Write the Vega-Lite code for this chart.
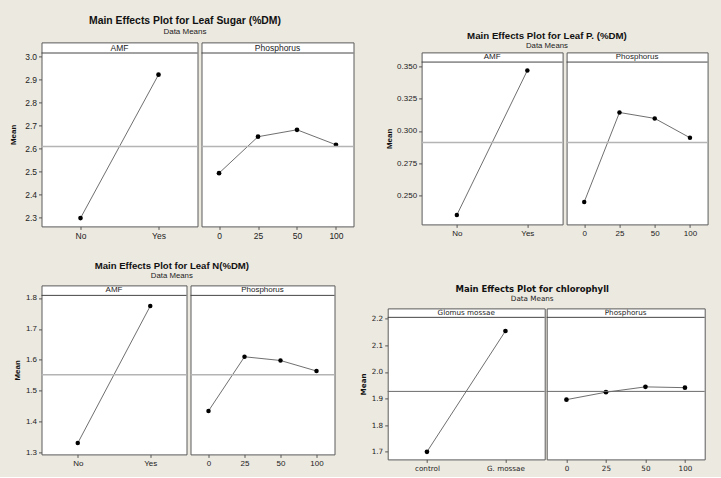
{
  "$schema": "https://vega.github.io/schema/vega-lite/v6.json",
  "padding": {"left": 8.5, "top": 9.4, "right": 17, "bottom": 5},
  "background": "#ECE9E0",
  "data": {"values": [
    {"response": "Leaf Sugar", "factor": "AMF", "level": "No", "mean": 2.297},
    {"response": "Leaf Sugar", "factor": "AMF", "level": "Yes", "mean": 2.919},
    {"response": "Leaf Sugar", "factor": "Phosphorus", "level": "0", "mean": 2.492},
    {"response": "Leaf Sugar", "factor": "Phosphorus", "level": "25", "mean": 2.650},
    {"response": "Leaf Sugar", "factor": "Phosphorus", "level": "50", "mean": 2.680},
    {"response": "Leaf Sugar", "factor": "Phosphorus", "level": "100", "mean": 2.615},
    {"response": "Leaf P", "factor": "AMF", "level": "No", "mean": 0.2348},
    {"response": "Leaf P", "factor": "AMF", "level": "Yes", "mean": 0.3469},
    {"response": "Leaf P", "factor": "Phosphorus", "level": "0", "mean": 0.2449},
    {"response": "Leaf P", "factor": "Phosphorus", "level": "25", "mean": 0.3143},
    {"response": "Leaf P", "factor": "Phosphorus", "level": "50", "mean": 0.3097},
    {"response": "Leaf P", "factor": "Phosphorus", "level": "100", "mean": 0.2947},
    {"response": "Leaf N", "factor": "AMF", "level": "No", "mean": 1.331},
    {"response": "Leaf N", "factor": "AMF", "level": "Yes", "mean": 1.774},
    {"response": "Leaf N", "factor": "Phosphorus", "level": "0", "mean": 1.435},
    {"response": "Leaf N", "factor": "Phosphorus", "level": "25", "mean": 1.610},
    {"response": "Leaf N", "factor": "Phosphorus", "level": "50", "mean": 1.598},
    {"response": "Leaf N", "factor": "Phosphorus", "level": "100", "mean": 1.564},
    {"response": "chlorophyll", "factor": "Glomus mossae", "level": "control", "mean": 1.700},
    {"response": "chlorophyll", "factor": "Glomus mossae", "level": "G. mossae", "mean": 2.154},
    {"response": "chlorophyll", "factor": "Phosphorus", "level": "0", "mean": 1.896},
    {"response": "chlorophyll", "factor": "Phosphorus", "level": "25", "mean": 1.924},
    {"response": "chlorophyll", "factor": "Phosphorus", "level": "50", "mean": 1.944},
    {"response": "chlorophyll", "factor": "Phosphorus", "level": "100", "mean": 1.941}
  ]},
  "spacing": 14,
  "vconcat": [
    {
      "spacing": 29.1,
      "hconcat": [
        {
          "spacing": 0,
          "vconcat": [
            {"width": 1, "height": 1, "data": {"values": [{}]}, "mark": {"type": "point", "opacity": 0}, "encoding": {}, "view": {"stroke": null, "fill": null}},
            {
              "title": {"text": "Main Effects Plot for Leaf Sugar (%DM)", "subtitle": "Data Means", "fontSize": 10.4, "subtitleFontSize": 8, "dx": 3, "offset": 6},
              "spacing": 0,
              "hconcat": [
                {
                  "width": 156, "height": 184,
                  "encoding": {
                    "y": {"type": "quantitative", "scale": {"domain": [2.261, 3.059], "nice": false, "zero": false}, "axis": {"title": "Mean", "values": [2.3, 2.4, 2.5, 2.6, 2.7, 2.8, 2.9, 3.0], "format": ".1f", "titlePadding": 7, "labelFontSize": 8.5}}
                  },
                  "layer": [
                    {"transform": [{"filter": "datum.response === 'Leaf Sugar' && datum.factor === 'AMF'"}],
                     "mark": {"type": "line", "color": "#4a4a4a", "strokeWidth": 0.8},
                     "encoding": {
                       "x": {"field": "level", "type": "nominal", "sort": ["No", "Yes"], "scale": {"type": "point", "padding": 0.5}, "axis": {"title": null, "labelAngle": 0, "labelFontSize": 8.5}},
                       "y": {"field": "mean"}}},
                    {"transform": [{"filter": "datum.response === 'Leaf Sugar' && datum.factor === 'AMF'"}],
                     "mark": {"type": "point", "filled": true, "color": "black", "size": 22, "opacity": 1},
                     "encoding": {
                       "x": {"field": "level", "type": "nominal", "sort": ["No", "Yes"]},
                       "y": {"field": "mean"}}},
                    {"data": {"values": [{}]}, "mark": {"type": "rule", "color": "#b4b4b4", "strokeWidth": 1.5}, "encoding": {"y": {"datum": 2.608}}},
                    {"data": {"values": [{}]}, "mark": {"type": "rule", "color": "#444444", "strokeWidth": 1}, "encoding": {"y": {"datum": 3.013}}},
                    {"data": {"values": [{"label": "AMF"}]}, "mark": {"type": "text", "fontSize": 8.5, "baseline": "middle"}, "encoding": {"y": {"datum": 3.036}, "text": {"field": "label"}}}
                  ]
                },
                {
                  "width": 152, "height": 184,
                  "encoding": {
                    "y": {"type": "quantitative", "scale": {"domain": [2.261, 3.059], "nice": false, "zero": false}, "axis": null}
                  },
                  "layer": [
                    {"transform": [{"filter": "datum.response === 'Leaf Sugar' && datum.factor === 'Phosphorus'"}],
                     "mark": {"type": "line", "color": "#4a4a4a", "strokeWidth": 0.8},
                     "encoding": {
                       "x": {"field": "level", "type": "nominal", "sort": ["0", "25", "50", "100"], "scale": {"type": "point", "padding": 0.45}, "axis": {"title": null, "labelAngle": 0, "labelFontSize": 8.5}},
                       "y": {"field": "mean"}}},
                    {"transform": [{"filter": "datum.response === 'Leaf Sugar' && datum.factor === 'Phosphorus'"}],
                     "mark": {"type": "point", "filled": true, "color": "black", "size": 22, "opacity": 1},
                     "encoding": {
                       "x": {"field": "level", "type": "nominal", "sort": ["0", "25", "50", "100"]},
                       "y": {"field": "mean"}}},
                    {"data": {"values": [{}]}, "mark": {"type": "rule", "color": "#b4b4b4", "strokeWidth": 1.5}, "encoding": {"y": {"datum": 2.608}}},
                    {"data": {"values": [{}]}, "mark": {"type": "rule", "color": "#444444", "strokeWidth": 1}, "encoding": {"y": {"datum": 3.013}}},
                    {"data": {"values": [{"label": "Phosphorus"}]}, "mark": {"type": "text", "fontSize": 8.5, "baseline": "middle"}, "encoding": {"y": {"datum": 3.036}, "text": {"field": "label"}}}
                  ]
                }
              ]
            }
          ]
        },
        {
          "spacing": 0,
          "vconcat": [
            {"width": 1, "height": 18.4, "data": {"values": [{}]}, "mark": {"type": "point", "opacity": 0}, "encoding": {}, "view": {"stroke": null, "fill": null}},
            {
              "title": {"text": "Main Effects Plot for Leaf P. (%DM)", "subtitle": "Data Means", "fontSize": 9.7, "subtitleFontSize": 7.8, "dx": 0, "offset": 2},
              "spacing": 0,
              "hconcat": [
                {
                  "width": 141, "height": 172,
                  "encoding": {
                    "y": {"type": "quantitative", "scale": {"domain": [0.2275, 0.3609], "nice": false, "zero": false}, "axis": {"title": "Mean", "values": [0.25, 0.275, 0.3, 0.325, 0.35], "format": ".3f", "titlePadding": 3}}
                  },
                  "layer": [
                    {"transform": [{"filter": "datum.response === 'Leaf P' && datum.factor === 'AMF'"}],
                     "mark": {"type": "line", "color": "#4a4a4a", "strokeWidth": 0.8},
                     "encoding": {
                       "x": {"field": "level", "type": "nominal", "sort": ["No", "Yes"], "scale": {"type": "point", "padding": 0.5}, "axis": {"title": null, "labelAngle": 0}},
                       "y": {"field": "mean"}}},
                    {"transform": [{"filter": "datum.response === 'Leaf P' && datum.factor === 'AMF'"}],
                     "mark": {"type": "point", "filled": true, "color": "black", "size": 20, "opacity": 1},
                     "encoding": {
                       "x": {"field": "level", "type": "nominal", "sort": ["No", "Yes"]},
                       "y": {"field": "mean"}}},
                    {"data": {"values": [{}]}, "mark": {"type": "rule", "color": "#b4b4b4", "strokeWidth": 1.5}, "encoding": {"y": {"datum": 0.2911}}},
                    {"data": {"values": [{}]}, "mark": {"type": "rule", "color": "#444444", "strokeWidth": 1}, "encoding": {"y": {"datum": 0.3534}}},
                    {"data": {"values": [{"label": "AMF"}]}, "mark": {"type": "text", "fontSize": 8, "baseline": "middle"}, "encoding": {"y": {"datum": 0.3571}, "text": {"field": "label"}}}
                  ]
                },
                {
                  "width": 141, "height": 172,
                  "encoding": {
                    "y": {"type": "quantitative", "scale": {"domain": [0.2275, 0.3609], "nice": false, "zero": false}, "axis": null}
                  },
                  "layer": [
                    {"transform": [{"filter": "datum.response === 'Leaf P' && datum.factor === 'Phosphorus'"}],
                     "mark": {"type": "line", "color": "#4a4a4a", "strokeWidth": 0.8},
                     "encoding": {
                       "x": {"field": "level", "type": "nominal", "sort": ["0", "25", "50", "100"], "scale": {"type": "point", "padding": 0.5}, "axis": {"title": null, "labelAngle": 0}},
                       "y": {"field": "mean"}}},
                    {"transform": [{"filter": "datum.response === 'Leaf P' && datum.factor === 'Phosphorus'"}],
                     "mark": {"type": "point", "filled": true, "color": "black", "size": 20, "opacity": 1},
                     "encoding": {
                       "x": {"field": "level", "type": "nominal", "sort": ["0", "25", "50", "100"]},
                       "y": {"field": "mean"}}},
                    {"data": {"values": [{}]}, "mark": {"type": "rule", "color": "#b4b4b4", "strokeWidth": 1.5}, "encoding": {"y": {"datum": 0.2911}}},
                    {"data": {"values": [{}]}, "mark": {"type": "rule", "color": "#444444", "strokeWidth": 1}, "encoding": {"y": {"datum": 0.3534}}},
                    {"data": {"values": [{"label": "Phosphorus"}]}, "mark": {"type": "text", "fontSize": 8, "baseline": "middle"}, "encoding": {"y": {"datum": 0.3571}, "text": {"field": "label"}}}
                  ]
                }
              ]
            }
          ]
        }
      ]
    },
    {
      "spacing": 22.2,
      "hconcat": [
        {
          "spacing": 0,
          "vconcat": [
            {"width": 1, "height": 1, "data": {"values": [{}]}, "mark": {"type": "point", "opacity": 0}, "encoding": {}, "view": {"stroke": null, "fill": null}},
            {
              "title": {"text": "Main Effects Plot for Leaf N(%DM)", "subtitle": "Data Means", "fontSize": 9.6, "subtitleFontSize": 7.8, "dx": -2.5, "offset": 5},
              "spacing": 0,
              "hconcat": [
                {
                  "width": 145, "height": 169,
                  "encoding": {
                    "y": {"type": "quantitative", "scale": {"domain": [1.2945, 1.8407], "nice": false, "zero": false}, "axis": {"title": "Mean", "values": [1.3, 1.4, 1.5, 1.6, 1.7, 1.8], "format": ".1f", "titlePadding": 4}}
                  },
                  "layer": [
                    {"transform": [{"filter": "datum.response === 'Leaf N' && datum.factor === 'AMF'"}],
                     "mark": {"type": "line", "color": "#4a4a4a", "strokeWidth": 0.8},
                     "encoding": {
                       "x": {"field": "level", "type": "nominal", "sort": ["No", "Yes"], "scale": {"type": "point", "padding": 0.5}, "axis": {"title": null, "labelAngle": 0}},
                       "y": {"field": "mean"}}},
                    {"transform": [{"filter": "datum.response === 'Leaf N' && datum.factor === 'AMF'"}],
                     "mark": {"type": "point", "filled": true, "color": "black", "size": 20, "opacity": 1},
                     "encoding": {
                       "x": {"field": "level", "type": "nominal", "sort": ["No", "Yes"]},
                       "y": {"field": "mean"}}},
                    {"data": {"values": [{}]}, "mark": {"type": "rule", "color": "#b4b4b4", "strokeWidth": 1.5}, "encoding": {"y": {"datum": 1.552}}},
                    {"data": {"values": [{}]}, "mark": {"type": "rule", "color": "#444444", "strokeWidth": 1}, "encoding": {"y": {"datum": 1.8084}}},
                    {"data": {"values": [{"label": "AMF"}]}, "mark": {"type": "text", "fontSize": 8, "baseline": "middle"}, "encoding": {"y": {"datum": 1.8245}, "text": {"field": "label"}}}
                  ]
                },
                {
                  "width": 144, "height": 169,
                  "encoding": {
                    "y": {"type": "quantitative", "scale": {"domain": [1.2945, 1.8407], "nice": false, "zero": false}, "axis": null}
                  },
                  "layer": [
                    {"transform": [{"filter": "datum.response === 'Leaf N' && datum.factor === 'Phosphorus'"}],
                     "mark": {"type": "line", "color": "#4a4a4a", "strokeWidth": 0.8},
                     "encoding": {
                       "x": {"field": "level", "type": "nominal", "sort": ["0", "25", "50", "100"], "scale": {"type": "point", "padding": 0.5}, "axis": {"title": null, "labelAngle": 0}},
                       "y": {"field": "mean"}}},
                    {"transform": [{"filter": "datum.response === 'Leaf N' && datum.factor === 'Phosphorus'"}],
                     "mark": {"type": "point", "filled": true, "color": "black", "size": 20, "opacity": 1},
                     "encoding": {
                       "x": {"field": "level", "type": "nominal", "sort": ["0", "25", "50", "100"]},
                       "y": {"field": "mean"}}},
                    {"data": {"values": [{}]}, "mark": {"type": "rule", "color": "#b4b4b4", "strokeWidth": 1.5}, "encoding": {"y": {"datum": 1.552}}},
                    {"data": {"values": [{}]}, "mark": {"type": "rule", "color": "#444444", "strokeWidth": 1}, "encoding": {"y": {"datum": 1.8084}}},
                    {"data": {"values": [{"label": "Phosphorus"}]}, "mark": {"type": "text", "fontSize": 8, "baseline": "middle"}, "encoding": {"y": {"datum": 1.8245}, "text": {"field": "label"}}}
                  ]
                }
              ]
            }
          ]
        },
        {
          "spacing": 0,
          "vconcat": [
            {"width": 1, "height": 26.9, "data": {"values": [{}]}, "mark": {"type": "point", "opacity": 0}, "encoding": {}, "view": {"stroke": null, "fill": null}},
            {
              "title": {"text": "Main Effects Plot for chlorophyll", "subtitle": "Data Means", "font": "DejaVu Sans", "subtitleFont": "DejaVu Sans", "fontSize": 8.5, "subtitleFontSize": 7.2, "dx": 0, "offset": 6},
              "spacing": 0,
              "hconcat": [
                {
                  "width": 157, "height": 151,
                  "encoding": {
                    "y": {"type": "quantitative", "scale": {"domain": [1.6714, 2.239], "nice": false, "zero": false}, "axis": {"title": "Mean", "values": [1.7, 1.8, 1.9, 2.0, 2.1, 2.2], "format": ".1f", "titlePadding": 4, "labelFont": "DejaVu Sans", "labelFontSize": 7.2, "titleFont": "DejaVu Sans", "titleFontSize": 7.2}}
                  },
                  "layer": [
                    {"transform": [{"filter": "datum.response === 'chlorophyll' && datum.factor === 'Glomus mossae'"}],
                     "mark": {"type": "line", "color": "#4a4a4a", "strokeWidth": 0.8},
                     "encoding": {
                       "x": {"field": "level", "type": "nominal", "sort": ["control", "G. mossae"], "scale": {"type": "point", "padding": 0.5}, "axis": {"title": null, "labelAngle": 0, "labelFont": "DejaVu Sans", "labelFontSize": 7.2}},
                       "y": {"field": "mean"}}},
                    {"transform": [{"filter": "datum.response === 'chlorophyll' && datum.factor === 'Glomus mossae'"}],
                     "mark": {"type": "point", "filled": true, "color": "black", "size": 22, "opacity": 1},
                     "encoding": {
                       "x": {"field": "level", "type": "nominal", "sort": ["control", "G. mossae"]},
                       "y": {"field": "mean"}}},
                    {"data": {"values": [{}]}, "mark": {"type": "rule", "color": "#6a6a6a", "strokeWidth": 1}, "encoding": {"y": {"datum": 1.927}}},
                    {"data": {"values": [{}]}, "mark": {"type": "rule", "color": "#444444", "strokeWidth": 1}, "encoding": {"y": {"datum": 2.2053}}},
                    {"data": {"values": [{"label": "Glomus mossae"}]}, "mark": {"type": "text", "font": "DejaVu Sans", "fontSize": 7.2, "baseline": "middle"}, "encoding": {"y": {"datum": 2.222}, "text": {"field": "label"}}}
                  ]
                },
                {
                  "width": 158, "height": 151,
                  "encoding": {
                    "y": {"type": "quantitative", "scale": {"domain": [1.6714, 2.239], "nice": false, "zero": false}, "axis": null}
                  },
                  "layer": [
                    {"transform": [{"filter": "datum.response === 'chlorophyll' && datum.factor === 'Phosphorus'"}],
                     "mark": {"type": "line", "color": "#4a4a4a", "strokeWidth": 0.8},
                     "encoding": {
                       "x": {"field": "level", "type": "nominal", "sort": ["0", "25", "50", "100"], "scale": {"type": "point", "padding": 0.5}, "axis": {"title": null, "labelAngle": 0, "labelFont": "DejaVu Sans", "labelFontSize": 7.2}},
                       "y": {"field": "mean"}}},
                    {"transform": [{"filter": "datum.response === 'chlorophyll' && datum.factor === 'Phosphorus'"}],
                     "mark": {"type": "point", "filled": true, "color": "black", "size": 22, "opacity": 1},
                     "encoding": {
                       "x": {"field": "level", "type": "nominal", "sort": ["0", "25", "50", "100"]},
                       "y": {"field": "mean"}}},
                    {"data": {"values": [{}]}, "mark": {"type": "rule", "color": "#6a6a6a", "strokeWidth": 1}, "encoding": {"y": {"datum": 1.927}}},
                    {"data": {"values": [{}]}, "mark": {"type": "rule", "color": "#444444", "strokeWidth": 1}, "encoding": {"y": {"datum": 2.2053}}},
                    {"data": {"values": [{"label": "Phosphorus"}]}, "mark": {"type": "text", "font": "DejaVu Sans", "fontSize": 7.2, "baseline": "middle"}, "encoding": {"y": {"datum": 2.222}, "text": {"field": "label"}}}
                  ]
                }
              ]
            }
          ]
        }
      ]
    }
  ],
  "config": {
    "view": {"fill": "white", "stroke": "#5a5a5a", "strokeWidth": 1},
    "axis": {"labelFont": "Liberation Sans", "labelFontSize": 8, "labelColor": "#222222", "labelOverlap": false, "tickColor": "#555555", "tickSize": 3, "domain": false, "grid": false, "titleFont": "Liberation Sans", "titleFontSize": 8, "titleFontWeight": "bold", "titleColor": "#111111", "labelPadding": 2},
    "title": {"font": "Liberation Sans", "fontWeight": "bold", "color": "#111111", "subtitleFont": "Liberation Sans", "subtitleColor": "#222222", "anchor": "middle", "offset": 7, "subtitlePadding": 1},
    "text": {"font": "Liberation Sans", "color": "#222222"}
  }
}
